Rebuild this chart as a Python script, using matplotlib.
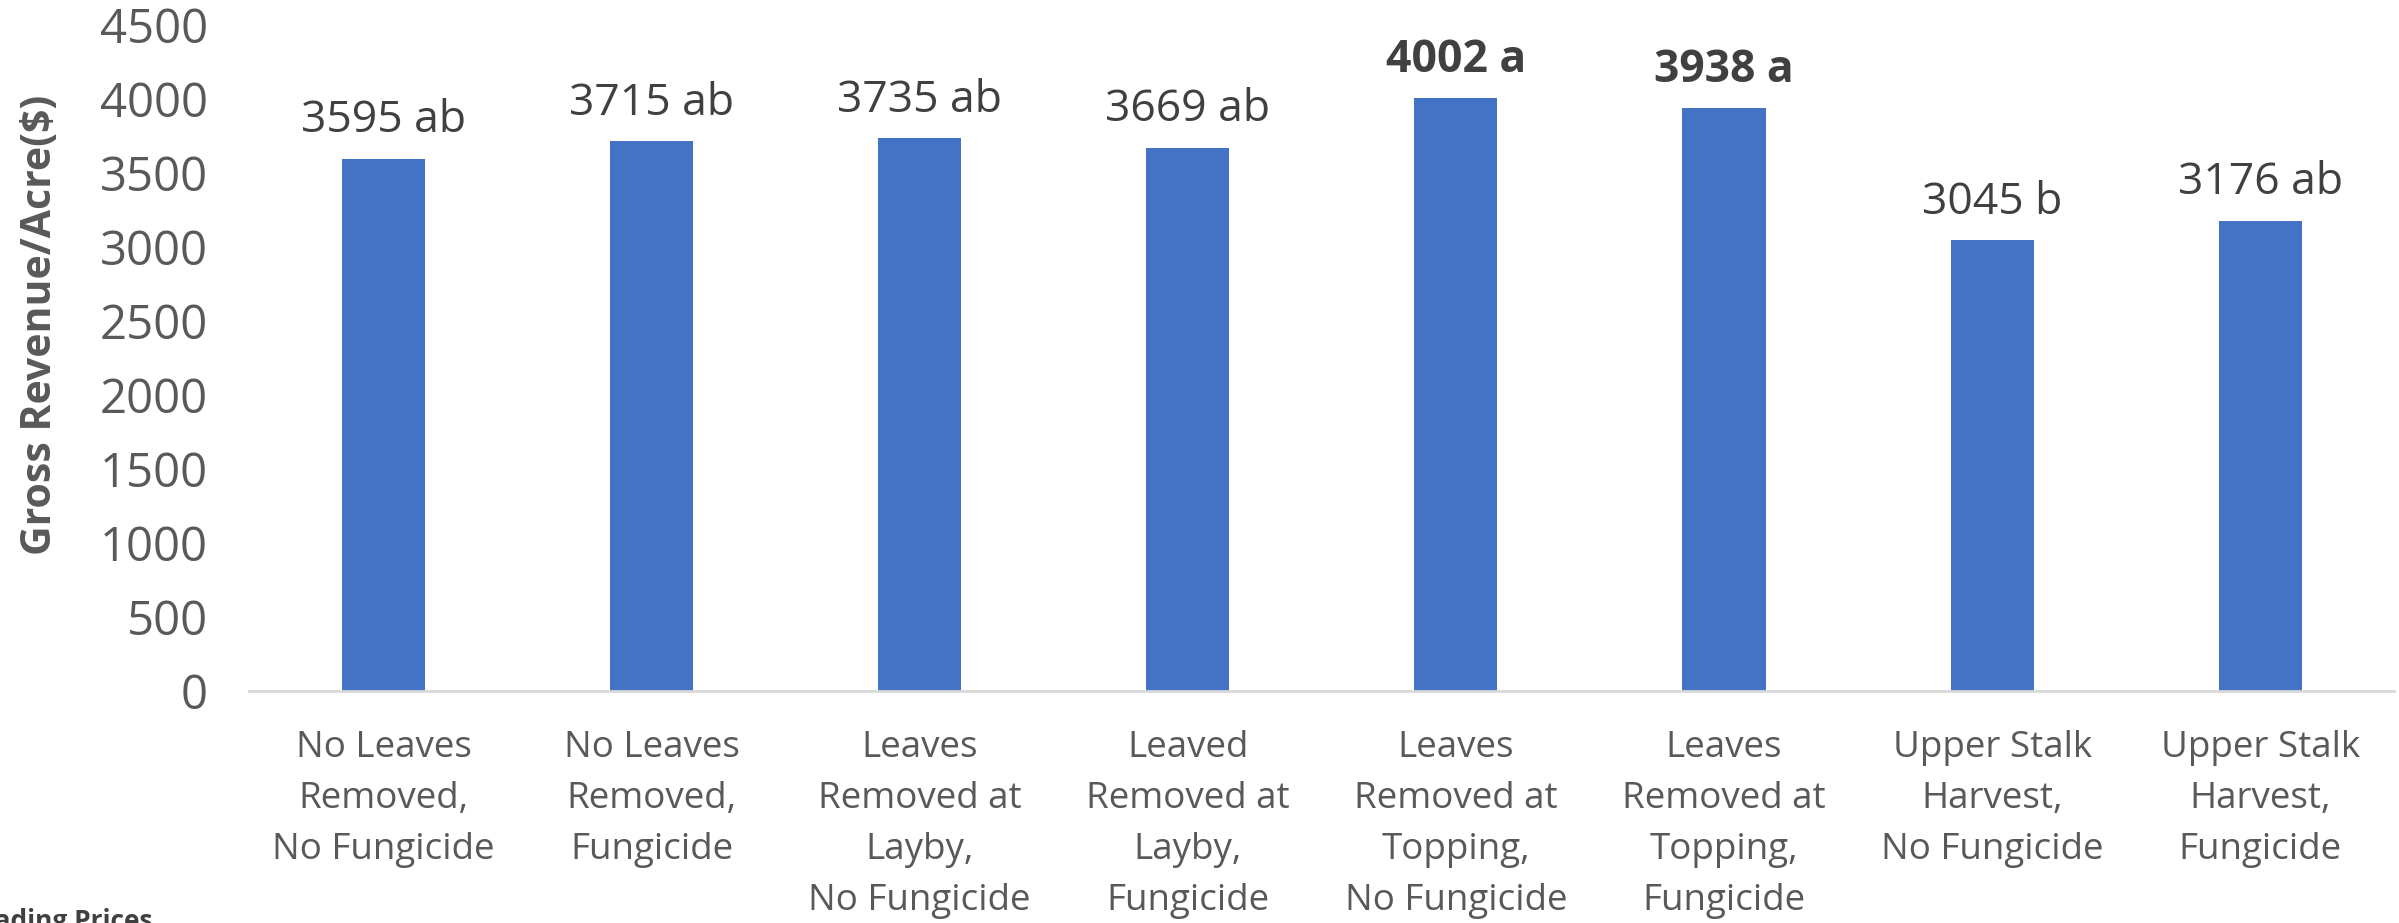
import matplotlib.pyplot as plt

# treatment labels as shown under the bars
treatments = [
    "No Leaves\nRemoved,\nNo Fungicide",
    "No Leaves\nRemoved,\nFungicide",
    "Leaves\nRemoved at\nLayby,\nNo Fungicide",
    "Leaved\nRemoved at\nLayby,\nFungicide",
    "Leaves\nRemoved at\nTopping,\nNo Fungicide",
    "Leaves\nRemoved at\nTopping,\nFungicide",
    "Upper Stalk\nHarvest,\nNo Fungicide",
    "Upper Stalk\nHarvest,\nFungicide",
]
revenue = [3595, 3715, 3735, 3669, 4002, 3938, 3045, 3176]
letters = ["ab", "ab", "ab", "ab", "a", "a", "b", "ab"]
bold_label = [False, False, False, False, True, True, False, False]
yticks = [0, 500, 1000, 1500, 2000, 2500, 3000, 3500, 4000, 4500]

plt.rcParams['font.family'] = ['Open Sans', 'DejaVu Sans']

fig = plt.figure(figsize=(23.99, 9.23), dpi=100)
ax = fig.add_axes([0.104, 0.2514, 0.894, 0.722])

x = range(len(revenue))
bars = ax.bar(x, revenue, width=0.31, color='#4472C4')

for i, b in enumerate(bars):
    ax.annotate(f"{revenue[i]} {letters[i]}",
                (b.get_x() + b.get_width() / 2, b.get_height()),
                xytext=(0, 11), textcoords='offset points',
                ha='center', va='bottom', fontsize=32,
                color='#404040',
                fontweight='bold' if bold_label[i] else 'normal')

ax.set_xlim(-0.5, len(revenue) - 0.5)
ax.set_ylim(0, 4500)
ax.set_yticks(yticks)
ax.set_xticks(list(x))
ax.set_xticklabels(treatments, fontsize=26.5, color='#595959', linespacing=1.56)
ax.tick_params(axis='y', labelsize=34, labelcolor='#595959', length=0, pad=30)
ax.tick_params(axis='x', length=0, pad=28)

for s in ['top', 'right', 'left']:
    ax.spines[s].set_visible(False)
ax.spines['bottom'].set_color('#D9D9D9')
ax.spines['bottom'].set_linewidth(2)

ax.set_ylabel('Gross Revenue/Acre($)', fontsize=29.5, fontweight='bold',
              color='#595959')
ax.yaxis.set_label_coords(-0.088, 0.55)

# cut-off note at bottom left of the original image
fig.text(153 / 2399, -0.0065, 'Grading Prices', ha='right', va='baseline',
         fontsize=19, fontweight='bold', color='#404040')

fig.savefig('out.png', dpi=100)
